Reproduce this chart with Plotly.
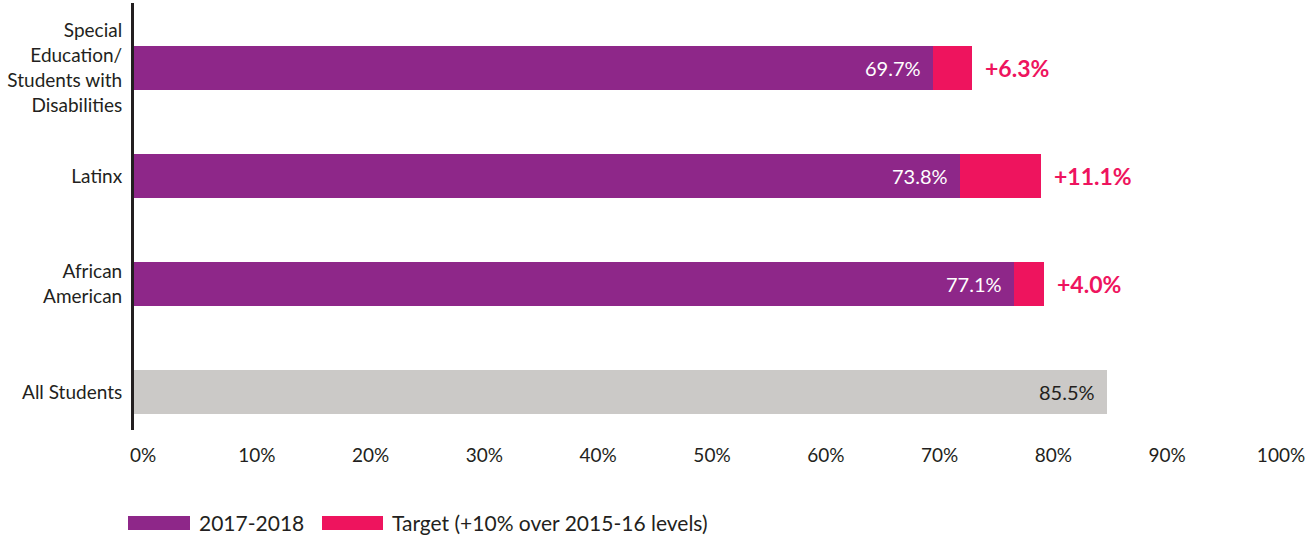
import plotly.graph_objects as go

# ---- data (top to bottom) ----
categories = ["Special<br>Education/<br>Students with<br>Disabilities", "Latinx",
              "African<br>American", "All Students"]
value_labels = [69.7, 73.8, 77.1, 85.5]          # printed values, 2017-2018
bar_2017 = [70.2, 72.6, 77.3, 85.5]              # bar lengths as drawn in the picture
target_gap_labels = [6.3, 11.1, 4.0]             # printed target increments
target_seg = [3.4, 7.1, 2.7]                     # target segment lengths as drawn
x_ticks = [0, 10, 20, 30, 40, 50, 60, 70, 80, 90, 100]
x_tick_text = [f"{t}%" for t in x_ticks]
legend_names = ["2017-2018", "Target (+10% over 2015-16 levels)"]

PURPLE = "#8E2789"
PINK = "#EE145E"
GRAY = "#CBC9C7"
TEXT = "#231F20"
FONT = "Lato"

W, H = 1314, 535
ML, MR, MT, MB = 134, 42, 3, 105
PW = W - ML - MR
PH = H - MT - MB

fig = go.Figure()
fig.add_trace(go.Bar(
    y=categories, x=bar_2017, orientation="h", name=legend_names[0],
    marker=dict(color=[PURPLE, PURPLE, PURPLE, GRAY], line=dict(width=0)),
    width=0.41, showlegend=False, hoverinfo="skip"))
fig.add_trace(go.Bar(
    y=categories[:3], x=target_seg, orientation="h", name=legend_names[1],
    marker=dict(color=PINK, line=dict(width=0)),
    width=0.41, showlegend=False, hoverinfo="skip"))

annotations = []
for i, (cat, v, lab) in enumerate(zip(categories, bar_2017, value_labels)):
    annotations.append(dict(
        x=v, y=cat, xref="x", yref="y", text=f"{lab}%", showarrow=False,
        xanchor="right", xshift=-10, yshift=0,
        font=dict(family=FONT, size=20, color="white" if i < 3 else TEXT)))
for cat, v, seg, lab in zip(categories, bar_2017, target_seg, target_gap_labels):
    annotations.append(dict(
        x=v + seg, y=cat, xref="x", yref="y", text=f"<b>+{lab:.1f}%</b>", showarrow=False,
        xanchor="left", xshift=11,
        font=dict(family=FONT, size=23, color=PINK)))

# custom legend (wide swatches)
def px_x(p):
    return (p - ML) / PW

def px_y(p):
    return (MT + PH - p) / PH

shapes = []
legend_items = [(128, 190, 197, PURPLE), (322, 383, 390, PINK)]
for (x0, x1, tx, col), name in zip(legend_items, legend_names):
    shapes.append(dict(type="rect", xref="paper", yref="paper",
                       x0=px_x(x0), x1=px_x(x1), y0=px_y(530), y1=px_y(516),
                       fillcolor=col, line=dict(width=0)))
    annotations.append(dict(x=px_x(tx), y=px_y(522), xref="paper", yref="paper",
                            text=name, showarrow=False, xanchor="left", yanchor="middle",
                            font=dict(family=FONT, size=21, color=TEXT)))

fig.update_layout(
    width=W, height=H,
    margin=dict(l=ML, r=MR, t=MT, b=MB),
    paper_bgcolor="white", plot_bgcolor="white",
    barmode="stack", bargap=0,
    showlegend=False,
    annotations=annotations, shapes=shapes,
    xaxis=dict(range=[0, 100], tickvals=x_ticks, ticktext=x_tick_text,
               showgrid=False, zeroline=False, showline=False, ticks="",
               tickfont=dict(family=FONT, size=19, color=TEXT),
               ticklabelshift=9, ticklabelstandoff=12, fixedrange=True),
    yaxis=dict(type="category", categoryorder="array", categoryarray=categories,
               range=[3.35, -0.6], showgrid=False, zeroline=False,
               showline=True, linecolor=TEXT, linewidth=3, ticks="",
               tickfont=dict(family=FONT, size=19, color=TEXT),
               ticklabelstandoff=5, fixedrange=True),
)

fig.write_html("out.html", config={"displayModeBar": False},
               post_script="document.body.style.margin='0';document.body.style.overflow='hidden';")
